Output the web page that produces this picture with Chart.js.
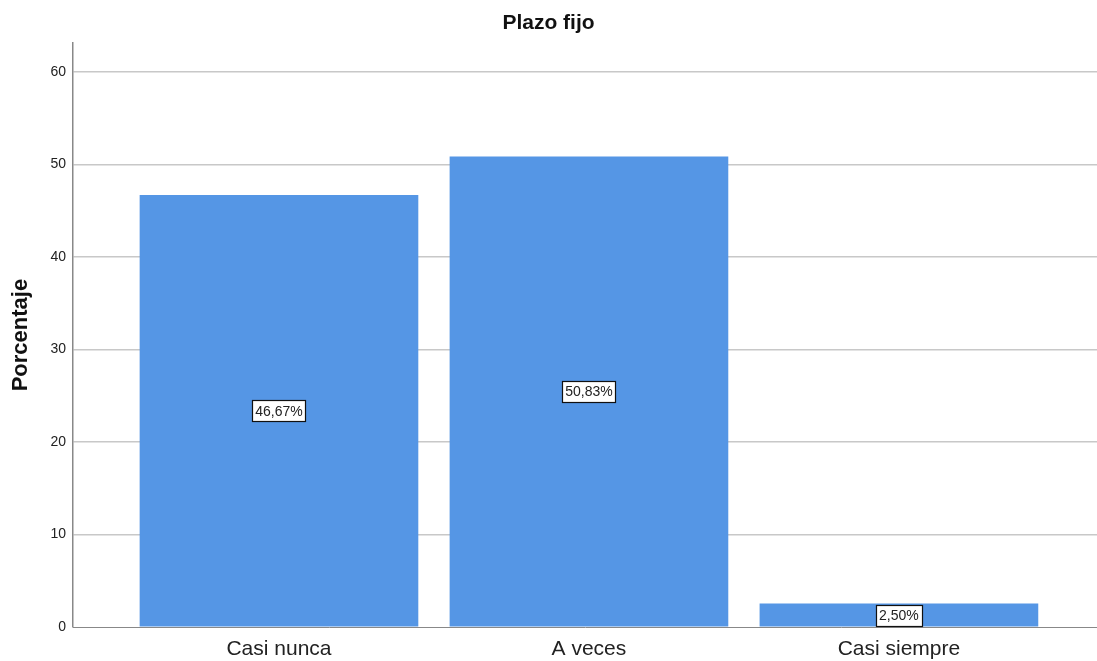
<!DOCTYPE html>
<html>
<head>
<meta charset="utf-8">
<script src="https://cdn.jsdelivr.net/npm/chart.js@4"></script>
<style>
  html, body { margin: 0; padding: 0; background: #fff; }
  #wrap { width: 1097px; height: 661px; }
</style>
</head>
<body>
<div id="wrap"><canvas id="plazoChart"></canvas></div>
<script>
const categories = ['Casi nunca', 'A veces', 'Casi siempre'];
const percentages = [46.67, 50.83, 2.50];
const percentLabels = ['46,67%', '50,83%', '2,50%'];
const yTicks = [0, 10, 20, 30, 40, 50, 60];

const fontFam = '"Liberation Sans", Arial, sans-serif';

// labels in white boxes at the middle of each bar
const boxLabels = {
    id: 'boxLabels',
    afterDatasetsDraw(chart) {
        const ctx = chart.ctx;
        const meta = chart.getDatasetMeta(0);
        ctx.save();
        ctx.font = '14px ' + fontFam;
        ctx.textAlign = 'center';
        ctx.textBaseline = 'middle';
        meta.data.forEach((bar, i) => {
            const txt = percentLabels[i];
            const yMid = (bar.y + bar.base) / 2;
            const w = Math.round(ctx.measureText(txt).width + 6);
            const h = 21;
            const left = Math.round(bar.x - w / 2) + 0.5;
            const top = Math.round(yMid - h / 2) + 0.5;
            ctx.fillStyle = '#fff';
            ctx.fillRect(left, top, w, h);
            ctx.strokeStyle = '#111';
            ctx.lineWidth = 1.2;
            ctx.strokeRect(left, top, w, h);
            ctx.fillStyle = '#222';
            ctx.fillText(txt, bar.x, yMid + 1);
        });
        ctx.restore();
    }
};

const ctx = document.getElementById('plazoChart').getContext('2d');
const chart = new Chart(ctx, {
    type: 'bar',
    data: {
        datasets: [{
            label: 'Porcentaje',
            data: percentages.map((v, i) => ({ x: i, y: v })),
            backgroundColor: '#5596E5',
            borderWidth: 0,
            barThickness: 278
        }]
    },
    options: {
        responsive: true,
        maintainAspectRatio: false,
        animation: false,
        plugins: {
            legend: { display: false },
            tooltip: { enabled: false },
            title: {
                display: true,
                text: 'Plazo fijo',
                color: '#111',
                font: { family: fontFam, size: 21, weight: 'bold' },
                padding: { top: 11, bottom: 7 }
            }
        },
        scales: {
            x: {
                type: 'linear',
                offset: false,
                min: -0.6645,
                max: 2.639,
                afterBuildTicks: (scale) => {
                    scale.ticks = categories.map((c, i) => ({ value: i }));
                },
                afterFit: (scale) => { scale.height = 34; },
                grid: { display: false, drawTicks: false },
                border: { display: true, color: '#888', width: 1 },
                ticks: {
                    padding: 10,
                    color: '#222',
                    font: { family: fontFam, size: 21 },
                    callback: (v) => categories[v]
                }
            },
            y: {
                min: 0,
                max: 63.1,
                afterBuildTicks: (scale) => {
                    scale.ticks = yTicks.map(v => ({ value: v }));
                },
                afterFit: (scale) => { scale.width = 73; },
                grid: {
                    color: (c) => c.tick && c.tick.value === 0 ? 'rgba(0,0,0,0)' : '#c8c8c8',
                    lineWidth: 1.5,
                    drawTicks: false
                },
                border: { display: true, color: '#888', width: 1.5 },
                title: {
                    display: true,
                    text: 'Porcentaje',
                    color: '#111',
                    font: { family: fontFam, size: 22, weight: 'bold' },
                    padding: { top: 8, bottom: 0 }
                },
                ticks: {
                    padding: 7,
                    color: '#222',
                    font: { family: fontFam, size: 14 }
                }
            }
        }
    },
    plugins: [boxLabels]
});
</script>
</body>
</html>
